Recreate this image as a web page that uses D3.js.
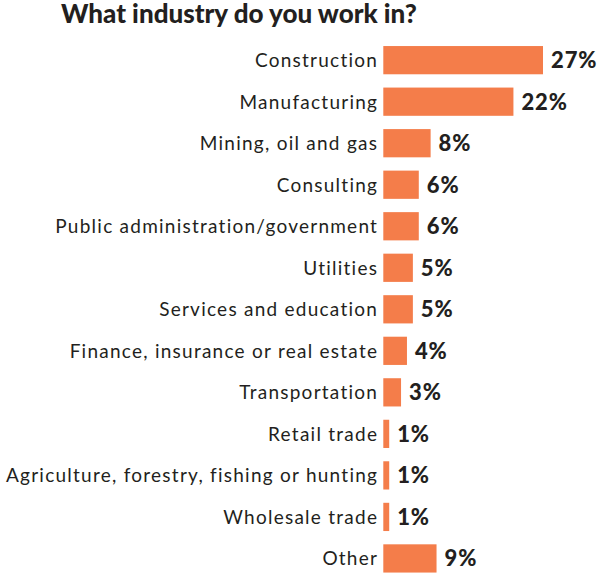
<!DOCTYPE html>
<html><head><meta charset="utf-8">
<script src="https://cdn.jsdelivr.net/npm/d3@7"></script>
<style>body{margin:0;background:#fff}</style>
</head><body>
<svg id="c" width="600" height="573"></svg>
<script>
const categories = ["Construction","Manufacturing","Mining, oil and gas","Consulting","Public administration/government","Utilities","Services and education","Finance, insurance or real estate","Transportation","Retail trade","Agriculture, forestry, fishing or hunting","Wholesale trade","Other"];
const values = [27,22,8,6,6,5,5,4,3,1,1,1,9];
const valueLabels = ["27%","22%","8%","6%","6%","5%","5%","4%","3%","1%","1%","1%","9%"];
const title = "What industry do you work in?";

const svg = d3.select("#c");
const x = d3.scaleLinear().domain([0,27]).range([383.3,543]);
const y = d3.scaleBand().domain(categories).range([39.4,579.2]).paddingInner(0.32).paddingOuter(0.16);
const color = "#F47D4A", ink = "#231F20";

svg.append("text").attr("x",61).attr("y",22.5).attr("fill",ink)
  .attr("font-family","Lato").attr("font-weight",900).attr("font-size",26).text(title);

const g = svg.append("g");
g.selectAll("rect").data(categories).join("rect")
  .attr("x",x(0)).attr("y",d=>y(d)).attr("width",(d,i)=>x(values[i])-x(0)).attr("height",y.bandwidth()).attr("fill",color);
g.selectAll("text.cat").data(categories).join("text").attr("class","cat")
  .attr("x",378.2).attr("y",d=>y(d)+y.bandwidth()/2).attr("dy","0.36em").attr("text-anchor","end")
  .attr("font-family","Lato").attr("font-size",19).attr("letter-spacing",1.25).attr("fill",ink).text(d=>d);
g.selectAll("text.val").data(categories).join("text").attr("class","val")
  .attr("x",(d,i)=>x(values[i])+8).attr("y",d=>y(d)+y.bandwidth()/2).attr("dy","0.36em")
  .attr("font-family","Lato").attr("font-weight",900).attr("font-size",22).attr("letter-spacing",0.9).attr("fill",ink).text((d,i)=>valueLabels[i]);
</script>
</body></html>
